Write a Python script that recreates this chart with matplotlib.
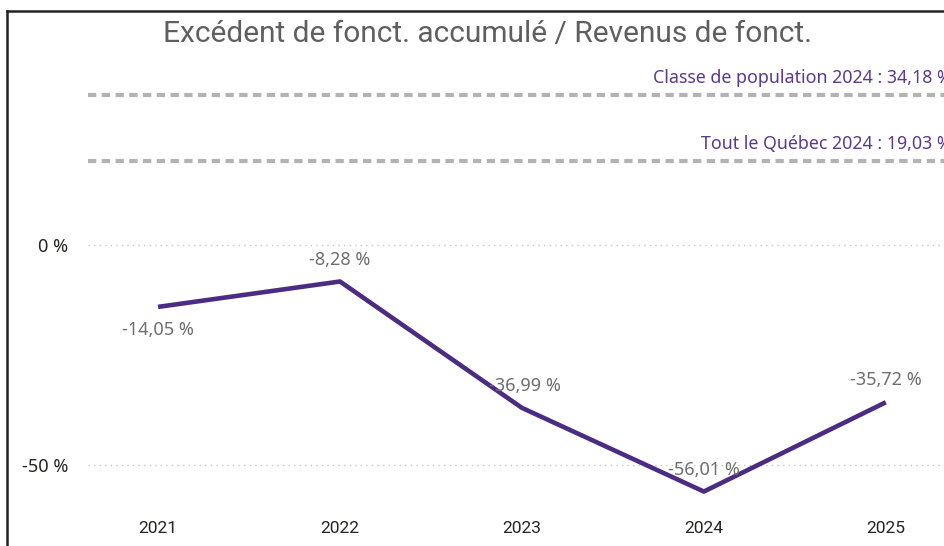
import matplotlib
matplotlib.use("Agg")
import matplotlib.pyplot as plt
from matplotlib.lines import Line2D

# data
years = ["2021", "2022", "2023", "2024", "2025"]
ratio = [-14.05, -8.28, -36.99, -56.01, -35.72]
ref_values = [34.18, 19.03]
ref_labels = ["Classe de population 2024 : 34,18 %", "Tout le Québec 2024 : 19,03 %"]
y_ticks = [0, -50]
y_tick_labels = ["0 %", "-50 %"]

LINE_COLOR = "#4B2C82"
REF_COLOR = "#B3B3B3"
REF_TEXT = "#5A3A8E"
LABEL_GRAY = "#6E6E6E"

def fmt(v):
    return f"{v:.2f}".replace(".", ",") + " %"

fig = plt.figure(figsize=(9.44, 5.46), dpi=100)
ax = fig.add_axes([88 / 944, 1 - 510 / 546, 1 - 88 / 944, (510 - 60) / 546])

x = list(range(len(years)))
ax.plot(x, ratio, color=LINE_COLOR, lw=3.3, solid_capstyle="butt", zorder=3)

# data labels: first one below, others above
for i, v in enumerate(ratio):
    dy = -23 if i == 0 else 22
    dx = 3 if i == 2 else 0
    ax.annotate(fmt(v), (i, v), xytext=(dx, dy), textcoords="offset pixels",
                ha="center", va="center", color=LABEL_GRAY, fontsize=13, family="Noto Sans", zorder=4)

# reference lines
for rv, rl in zip(ref_values, ref_labels):
    ax.axhline(rv, color=REF_COLOR, lw=3, dashes=(2, 1.3), zorder=2)
    ax.annotate(rl, (1.0, rv), xycoords=("axes fraction", "data"), xytext=(8, 17),
                textcoords="offset pixels", ha="right", va="center", color=REF_TEXT,
                fontsize=12.8, family="Noto Sans", annotation_clip=False)

ax.set_xlim(-0.385, 4.32)
ax.set_ylim(-60.2, 42.05)
ax.set_yticks(y_ticks)
ax.set_yticklabels(y_tick_labels, family="Noto Sans", fontsize=13, color="#252423")
ax.set_xticks(x)
ax.set_xticklabels(years, family="Roboto", fontsize=12.5, color="#252423")
ax.tick_params(length=0)
ax.tick_params(axis="y", pad=14)
ax.tick_params(axis="x", pad=8)
ax.grid(axis="y", color="#C8C8C8", lw=1, linestyle=(0, (1, 3)))
ax.set_axisbelow(True)
for s in ax.spines.values():
    s.set_visible(False)

fig.text(488 / 944, 1 - 34 / 546, "Excédent de fonct. accumulé / Revenus de fonct.",
         ha="center", va="center", color="#5F5F5F", fontsize=21.5, family="Roboto")

# frame lines on the left and top edge
fig.add_artist(Line2D([7 / 944, 7 / 944], [0, 1 - 11 / 546], transform=fig.transFigure, color="#222222", lw=1.8))
fig.add_artist(Line2D([7 / 944, 1], [1 - 11 / 546, 1 - 11 / 546], transform=fig.transFigure, color="#222222", lw=1.8))

fig.savefig("out.png", dpi=100)
